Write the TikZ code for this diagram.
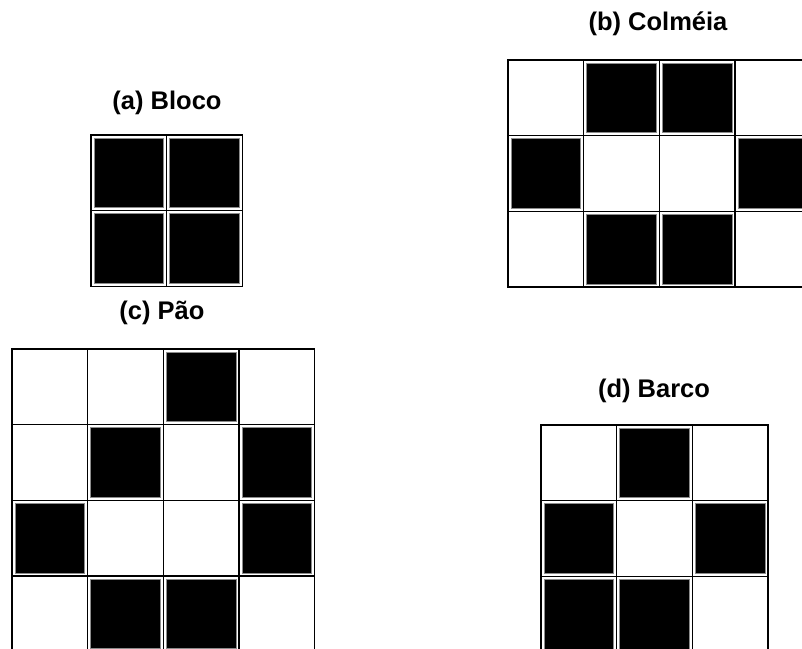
\documentclass[tikz,border=0pt]{standalone}
\usepackage{fontspec}
\setmainfont{Liberation Sans}
\usepackage{tikz}

\begin{document}
\begin{tikzpicture}[
    x=1pt,y=-1pt,
    titulo/.style={anchor=base,font=\bfseries\fontsize{25.5}{30}\selectfont},
    celula/.style={draw=black,line width=1.3pt,fill=white},
    viva/.style={fill=black,draw=black!45,line width=1pt}]
    \def\lado{75.7}
    \useasboundingbox (0,0) rectangle (802,648);
    \clip (0,0) rectangle (802,648);
    % (a) Bloco
    \node[titulo] (tituloA) at (167,109) {(a) Bloco};
    \foreach \i in {0,1} \foreach \j in {0,1}
      \draw[celula] (91+\i*\lado,135+\j*\lado) rectangle ++(\lado,\lado);
    \foreach \i/\j in {0/0,1/0,0/1,1/1}
      \draw[viva] (91+\i*\lado+3,135+\j*\lado+3) rectangle ++(\lado-6,\lado-6);
    % (b) Colmeia
    \node[titulo] (tituloB) at (658,30) {(b) Colméia};
    \foreach \i in {0,...,3} \foreach \j in {0,...,2}
      \draw[celula] (508+\i*\lado,60+\j*\lado) rectangle ++(\lado,\lado);
    \foreach \i/\j in {1/0,2/0,0/1,3/1,1/2,2/2}
      \draw[viva] (508+\i*\lado+3,60+\j*\lado+3) rectangle ++(\lado-6,\lado-6);
    % (c) Pao
    \node[titulo] (tituloC) at (162,319) {(c) Pão};
    \foreach \i in {0,...,3} \foreach \j in {0,...,3}
      \draw[celula] (12+\i*\lado,349+\j*\lado) rectangle ++(\lado,\lado);
    \foreach \i/\j in {2/0,1/1,3/1,0/2,3/2,1/3,2/3}
      \draw[viva] (12+\i*\lado+3,349+\j*\lado+3) rectangle ++(\lado-6,\lado-6);
    % (d) Barco
    \node[titulo] (tituloD) at (654,397) {(d) Barco};
    \foreach \i in {0,...,2} \foreach \j in {0,...,2}
      \draw[celula] (541+\i*\lado,425+\j*\lado) rectangle ++(\lado,\lado);
    \foreach \i/\j in {1/0,0/1,2/1,0/2,1/2}
      \draw[viva] (541+\i*\lado+3,425+\j*\lado+3) rectangle ++(\lado-6,\lado-6);
\end{tikzpicture}
\end{document}
